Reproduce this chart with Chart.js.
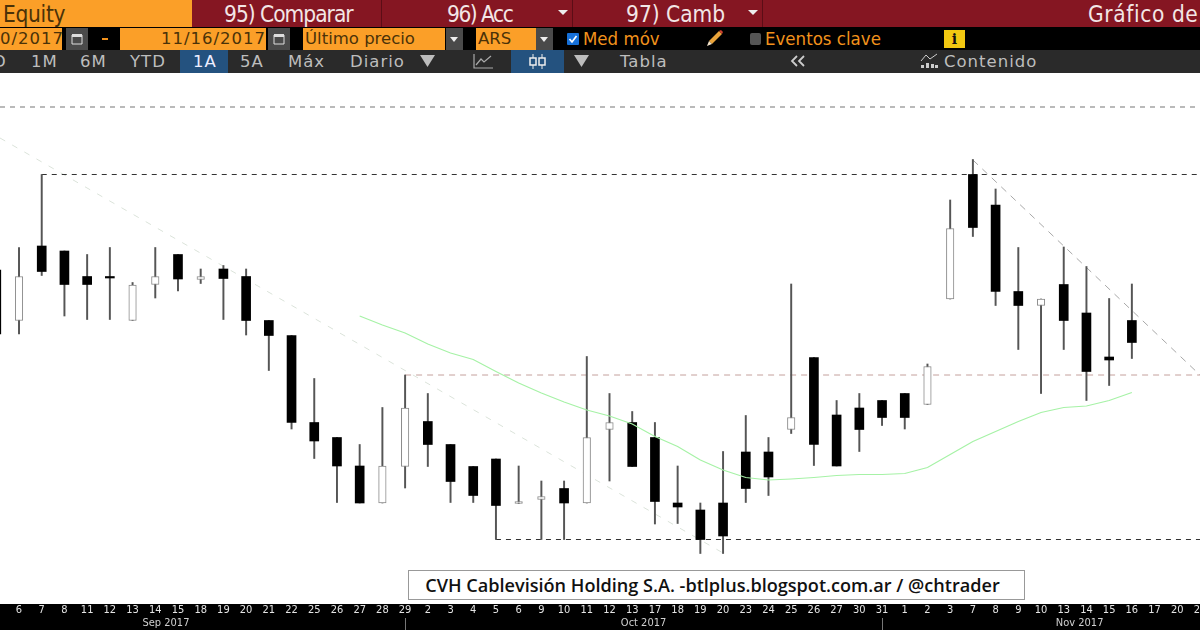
<!DOCTYPE html>
<html>
<head>
<meta charset="utf-8">
<script src="https://cdn.jsdelivr.net/npm/chart.js@4"></script>
<style>
  html, body { margin: 0; background: #fff; }
  #page { position: relative; width: 1200px; height: 630px; overflow: hidden; }
  #bars { position: absolute; left: 0; top: 0; width: 1200px; height: 73px; overflow: hidden; background: #000;
          font-family: "DejaVu Sans", sans-serif; white-space: nowrap; }
  #bars div, #bars svg { position: absolute; }
  .big { font-family: "DejaVu Sans Condensed", "DejaVu Sans"; font-size: 22.5px; color: #f3e6e6; top: 1px; line-height: 26px; }
  .box { background: #fb9f28; top: 28px; height: 22px; line-height: 22px; font-size: 16.5px; color: #4a3208; }
  .grey { background: #4a4a4a; top: 28px; height: 22px; }
  .org { font-family: "DejaVu Sans Condensed", "DejaVu Sans"; color: #f2921c; top: 27px; line-height: 24px; font-size: 18.5px; }
  .tab { top: 50px; line-height: 24px; height: 23px; font-size: 16.5px; letter-spacing: 1px; color: #bdbdbd; }
  .blue { background: #24527f; top: 50px; height: 23px; }
  #chartWrap { position: absolute; left: 0; top: 73px; width: 1200px; height: 557px; }
  #note { position: absolute; left: 408px; top: 570px; width: 615px; height: 28px; border: 1px solid #999; background: #fff;
          font: 600 18.100px/28px "Open Sans", sans-serif; color: #111; text-align: center; text-indent: -8px; white-space: nowrap; }
</style>
</head>
<body>
<div id="page">
  <div id="bars">
    <div style="left:0;top:0;width:1200px;height:27px;background:#851622"></div>
    <div style="left:0;top:0;width:192px;height:27px;background:#fb9f28"></div>
    <div style="left:381px;top:0;width:1px;height:27px;background:#5c0d16"></div>
    <div style="left:572px;top:0;width:1px;height:27px;background:#5c0d16"></div>
    <div style="left:762px;top:0;width:1px;height:27px;background:#5c0d16"></div>
    <div class="big" style="left:3px;color:#4a3208;letter-spacing:-0.3px">Equity</div>
    <div class="big" style="left:224px;letter-spacing:-1px">95) Comparar</div>
    <div class="big" style="left:447px;letter-spacing:-1.500px">96) Acc</div>
    <div class="big" style="left:626px">97) Camb</div>
    <div class="big" style="left:1088px;letter-spacing:0.6px">Gráfico de</div>
    <svg style="left:558px;top:10px" width="10" height="6"><path d="M0 0H10L5 5Z" fill="#eee"/></svg>
    <svg style="left:748px;top:10px" width="10" height="6"><path d="M0 0H10L5 5Z" fill="#eee"/></svg>

    <div style="left:0;top:50px;width:1200px;height:23px;background:#2a2a2a"></div>
    <div class="box" style="left:0;width:62px;text-align:right;letter-spacing:1px">0/2017</div>
    <div class="grey" style="left:66px;width:22px"></div>
    <svg style="left:71px;top:32px" width="12" height="13"><path d="M1 3H11V12H1Z" fill="none" stroke="#ddd"/><path d="M1 2H11V5H1Z" fill="#ddd"/></svg>
    <div style="left:102px;top:38px;width:6px;height:2px;background:#f2921c"></div>
    <div class="box" style="left:120px;width:146px;text-align:right;letter-spacing:1px">11/16/2017</div>
    <div class="grey" style="left:268px;width:22px"></div>
    <svg style="left:273px;top:32px" width="12" height="13"><path d="M1 3H11V12H1Z" fill="none" stroke="#ddd"/><path d="M1 2H11V5H1Z" fill="#ddd"/></svg>
    <div class="box" style="left:303px;width:142px;padding-left:2px;box-sizing:border-box">Último precio</div>
    <div class="grey" style="left:446px;width:17px"></div>
    <svg style="left:450px;top:37px" width="9" height="6"><path d="M0 0H8L4 5Z" fill="#eee"/></svg>
    <div class="box" style="left:476px;width:60px;padding-left:2px;box-sizing:border-box">ARS</div>
    <div class="grey" style="left:536px;width:17px"></div>
    <svg style="left:540px;top:37px" width="9" height="6"><path d="M0 0H8L4 5Z" fill="#eee"/></svg>
    <svg style="left:567px;top:33px" width="12" height="12"><rect width="12" height="12" rx="1" fill="#1670d8"/><path d="M2.5 6L5 9L9.500 3" stroke="#fff" stroke-width="1.700" fill="none"/></svg>
    <div class="org" style="left:583px">Med móv</div>
    <svg style="left:706px;top:29px" width="18" height="18"><path d="M3 12L13 2L16 5L6 15Z" fill="#e9a33a"/><path d="M3 12L6 15L1 17Z" fill="#f3e2c8"/><path d="M13 2L16 5L17 3L15 1Z" fill="#d04030"/></svg>
    <div style="left:750px;top:33px;width:11px;height:12px;background:#555;border-radius:2px"></div>
    <div class="org" style="left:765px">Eventos clave</div>
    <div style="left:944px;top:30px;width:21px;height:18px;background:#f2c811;color:#111;font:bold 14px/18px 'DejaVu Serif',serif;text-align:center">i</div>

    <div class="blue" style="left:180px;width:48px"></div>
    <div class="blue" style="left:511px;width:53px"></div>
    <div class="tab" style="left:-7px">D</div>
    <div class="tab" style="left:31px">1M</div>
    <div class="tab" style="left:80px">6M</div>
    <div class="tab" style="left:130px">YTD</div>
    <div class="tab" style="left:193px;color:#eef">1A</div>
    <div class="tab" style="left:240px">5A</div>
    <div class="tab" style="left:288px">Máx</div>
    <div class="tab" style="left:350px">Diario</div>
    <svg style="left:420px;top:55px" width="15" height="12"><path d="M0 0H15L7.500 12Z" fill="#bdbdbd"/></svg>
    <svg style="left:473px;top:53px" width="21" height="16"><path d="M1 1V15H20M3 12L8 6L11 9L18 3" fill="none" stroke="#aaa" stroke-width="1.200"/></svg>
    <svg style="left:528px;top:54px" width="20" height="15"><path d="M5 0V15M14 0V15" stroke="#eee"/><rect x="2" y="4" width="6" height="7" fill="#24527f" stroke="#eee" stroke-width="1.500"/><rect x="11" y="4" width="6" height="7" fill="#24527f" stroke="#eee" stroke-width="1.500"/></svg>
    <svg style="left:574px;top:55px" width="15" height="12"><path d="M0 0H15L7.500 12Z" fill="#bdbdbd"/></svg>
    <div class="tab" style="left:620px">Tabla</div>
    <svg style="left:790px;top:55px" width="16" height="12"><path d="M7 1L2 6L7 11M14 1L9 6L14 11" fill="none" stroke="#ccc" stroke-width="1.800"/></svg>
    <svg style="left:920px;top:53px" width="19" height="16"><path d="M1 8L6 2L10 6L17 1" fill="none" stroke="#ccc"/><path d="M1 12h3v3h-3zM6 10h3v5h-3zM11 11h3v4h-3zM15 12h3v3h-3z" fill="#ccc"/></svg>
    <div class="tab" style="left:944px">Contenido</div>
  </div>
  <div id="chartWrap"><canvas id="chart"></canvas></div>
  <div id="note">CVH Cablevisión Holding S.A. -btlplus.blogspot.com.ar / @chtrader</div>
</div>

<script>
// trading days on the axis; no y axis is shown so values are on a relative 0-531 scale
const days = ['5','6','7','8','11','12','13','14','15','18','19','20','21','22','25','26','27','28','29',
  '2','3','4','5','6','9','10','11','12','13','17','18','19','20','23','24','25','26','27','30','31',
  '1','2','3','7','8','9','10','13','14','15','16','17','20','21'];

const opens = [334,283.5,358,353,327.5,327.5,283.5,319.5,349.5,324.5,335,327.5,283.5,268.5,181.5,166.5,138,101,137.5,
  182.5,159.5,137.5,145,100.5,104.5,115.5,101,174.5,181.5,166.5,101,94,101,152,152,174.5,246.5,189,196,203.5,
  210.5,199.5,305,429.5,399,312.5,298.5,319.5,291,247,283.5];
const closes = [270,327.5,332.5,319.5,319.5,326,319,327.5,325,327.5,325.5,283.5,268.5,181.5,163,138,101,138,196,
  159.5,122.5,108.5,98.5,102.5,107.5,101,166.5,181.5,137.5,102.5,97,64.5,68,115.5,127,186.5,159.5,138,174.5,186.5,
  186.5,237.5,375.5,376.5,312.5,298.5,305,283.5,232.5,244,261.5];
const highs = [334,356.5,429.5,353,349.5,356.5,321.5,356.5,349.5,335,338.5,335,283.5,268.5,225.5,166.5,159.5,196.5,229,
  210.5,159.5,137.5,145,138,123,123,247.5,210.5,192.5,181.5,138,101,152.5,188.5,166.5,320,246.5,203.5,210.5,203.5,
  210.5,240,404,444.5,415,356.5,305,357,337.5,305.5,320];
const lows = [270,270,328.5,288,284.5,284.5,283.5,306,313,320.5,284.5,269,233.5,175,145.5,101.5,101,101,116,
  137.5,101.5,101.5,64.5,100.5,64.5,64.5,101,123,137.5,80,80.5,50.5,50.5,101.5,108.5,170.5,138.5,138,152.5,178.5,
  175,199.5,305,367.5,298.5,254.5,210.5,254.5,203.5,218.5,245.5];

// moving average starts on day index 16
const maStart = 16;
const movingAvg = [288,279,271,260,251,244.5,232.5,221,211,202,194,188,180,167.5,157.5,144,134,126.5,124,125,
  126.5,128.5,129.5,129.5,130.5,136.5,149.5,162.5,172.5,182.5,191.5,196.5,198,203.5,211.5];

const xMin = 0.163, xMax = 53;
const yMax = 531;

// drawn lines: [x0, y0, x1, y1] in axis units
const topLine = [xMin, 497, xMax, 497];
const resistLine = [2, 429.500, xMax, 429.500];
const midLine = [18, 229, xMax, 229];
const supportLine = [22, 64.500, xMax, 64.500];
const oldTrend = [xMin, 466, 32, 51];
const newTrend = [43, 444, xMax, 229];

const monthLabels = ['Sep 2017', 'Oct 2017', 'Nov 2017'];
const monthCenters = [7.47, 28.5, 47.7];
const monthEnds = [18, 39];

function guide(line, color, dash) {
  return {
    type: 'line',
    data: [{ x: line[0], y: line[1] }, { x: line[2], y: line[3] }],
    borderColor: color,
    borderWidth: 1,
    borderDash: dash,
    pointRadius: 0,
    order: 5
  };
}

const wicks = highs.map((h, i) => ({ x: i, y: [lows[i], h] }));
const downBodies = [];
const upBodies = [];
opens.forEach((o, i) => {
  const c = closes[i];
  (c >= o ? upBodies : downBodies).push({ x: i, y: [o, c] });
});

// black strip behind the date axis and the month end marks
const axisBand = {
  id: 'axisBand',
  beforeDraw(chart) {
    const { ctx, chartArea, width, height } = chart;
    ctx.fillStyle = '#000';
    ctx.fillRect(0, chartArea.bottom, width, height - chartArea.bottom);
  },
  afterDraw(chart) {
    const { ctx, chartArea, height, scales } = chart;
    ctx.fillStyle = '#777';
    monthEnds.forEach(i => {
      ctx.fillRect(Math.round(scales.x.getPixelForValue(i)), chartArea.bottom + 14, 1, height - chartArea.bottom - 14);
    });
  }
};

function fixAxis(h) {
  return scale => {
    scale.height = h;
    scale.paddingLeft = 0;
    scale.paddingRight = 0;
  };
}

new Chart(document.getElementById('chart'), {
  type: 'bar',
  data: {
    datasets: [
      { data: wicks, backgroundColor: '#555', barThickness: 1.300, grouped: false, order: 4 },
      { data: downBodies, backgroundColor: '#000', barThickness: 9, grouped: false, order: 3 },
      { data: upBodies, backgroundColor: '#fff', borderColor: '#8a8a8a', borderWidth: 1, borderSkipped: false,
        barThickness: 7.500, grouped: false, order: 3 },
      { type: 'line', data: movingAvg.map((v, i) => ({ x: i + maStart, y: v })), borderColor: '#a6f2a6', borderWidth: 1.200,
        pointRadius: 0, order: 1 },
      guide(topLine, '#777', [5, 5]),
      guide(resistLine, '#333', [5, 5]),
      guide(midLine, '#c4a09c', [6, 5]),
      guide(supportLine, '#333', [5, 5]),
      guide(oldTrend, '#dbe3da', [6, 8]),
      guide(newTrend, '#a8a8a8', [7, 6])
    ]
  },
  plugins: [axisBand],
  options: {
    responsive: true,
    maintainAspectRatio: false,
    animation: false,
    layout: { padding: 0, autoPadding: false },
    plugins: { legend: { display: false }, tooltip: { enabled: false } },
    scales: {
      y: { display: false, min: 0, max: yMax },
      x: {
        type: 'linear',
        position: 'bottom',
        offset: false,
        min: xMin,
        max: xMax,
        grid: { display: false, drawTicks: false, offset: false },
        border: { display: false },
        afterBuildTicks: scale => {
          scale.ticks = days.map((d, i) => ({ value: i })).filter(t => t.value >= xMin);
        },
        afterFit: fixAxis(13),
        ticks: {
          autoSkip: false, maxRotation: 0, minRotation: 0, padding: 0,
          color: '#e4e4e4',
          font: { family: 'DejaVu Sans Condensed', size: 11 },
          callback: value => days[value]
        }
      },
      months: {
        type: 'linear',
        position: 'bottom',
        offset: false,
        min: xMin,
        max: xMax,
        grid: { display: false, drawTicks: false, offset: false },
        border: { display: false },
        afterBuildTicks: scale => {
          scale.ticks = monthCenters.map(v => ({ value: v }));
        },
        afterFit: fixAxis(13),
        ticks: {
          autoSkip: false, maxRotation: 0, minRotation: 0, padding: 0,
          color: '#d0d0d0',
          font: { family: 'DejaVu Sans Condensed', size: 11 },
          callback: value => monthLabels[monthCenters.indexOf(value)]
        }
      }
    }
  }
});
</script>
</body>
</html>
